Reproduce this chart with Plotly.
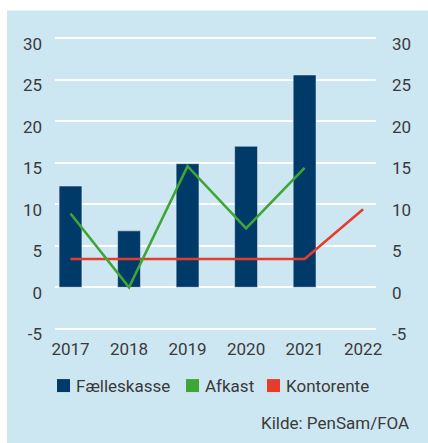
import plotly.graph_objects as go

years = ["2017", "2018", "2019", "2020", "2021", "2022"]
faelleskasse = [12.2, 6.8, 14.9, 17.0, 25.6, None]
afkast = [8.9, 0.0, 14.6, 7.1, 14.4, None]
kontorente = [3.4, 3.4, 3.4, 3.4, 3.4, 9.4]
y_ticks = [-5, 0, 5, 10, 15, 20, 25, 30]
y_ticktext = ["-5", "0", "5", "10", "15", "20", "25", "30"]
legend_names = ["Fælleskasse", "Afkast", "Kontorente"]

NAVY = "#003a68"
GREEN = "#3fa535"
RED = "#e63c2e"
BG = "#cde7f2"
TXT = "#3a3a3a"
FONT = "Roboto"

W, H = 428, 443
yr = [-6.0, 30.3]
L, R, T = 55, 52, 35.5
B = 443 - (329 + 8.3)
PW, PH = W - L - R, H - T - B
LABEL_DROP = 0.65  # tick labels sit slightly below their gridline


def px_x(px):
    return (px - L) / PW


def px_y(py):
    return (H - B - py) / PH


fig = go.Figure()
fig.add_trace(go.Bar(x=years, y=faelleskasse, name=legend_names[0], marker_color=NAVY,
                     width=0.39, showlegend=False))
fig.add_trace(go.Scatter(x=years, y=afkast, name=legend_names[1], mode="lines",
                         line=dict(color=GREEN, width=2.6), showlegend=False, yaxis="y3"))
fig.add_trace(go.Scatter(x=years, y=kontorente, name=legend_names[2], mode="lines",
                         line=dict(color=RED, width=2.6), showlegend=False, yaxis="y2"))

# manual legend (square swatches + labels)
swatch_x = [57, 186, 267]
colors = [NAVY, GREEN, RED]
leg_y = 386
shapes = [
    dict(type="rect", xref="paper", yref="paper", x0=-0.5, x1=1.5,
         y0=px_y(10), y1=1.5, fillcolor="white", line_width=0, layer="below"),
    dict(type="rect", xref="paper", yref="paper", x0=-0.5, x1=px_x(7),
         y0=-1, y1=1.5, fillcolor="white", line_width=0, layer="below"),
]
annotations = []
for sx, c, name in zip(swatch_x, colors, legend_names):
    shapes.append(dict(type="rect", xref="paper", yref="paper", x0=px_x(sx), x1=px_x(sx + 13),
                       y0=px_y(leg_y + 6.5), y1=px_y(leg_y - 6.5), fillcolor=c, line_width=0))
    annotations.append(dict(text=name, xref="paper", yref="paper", x=px_x(sx + 17), y=px_y(leg_y),
                            xanchor="left", yanchor="middle", showarrow=False,
                            font=dict(family=FONT, size=17, color=TXT)))
annotations.append(dict(text="Kilde: PenSam/FOA", xref="paper", yref="paper",
                        x=px_x(411), y=px_y(424), xanchor="right", yanchor="middle",
                        showarrow=False, font=dict(family=FONT, size=17, color=TXT)))

label_vals = [v - LABEL_DROP for v in y_ticks]
fig.update_layout(
    width=W, height=H,
    margin=dict(l=L, r=R, t=T, b=B),
    paper_bgcolor=BG, plot_bgcolor=BG,
    font=dict(family=FONT, size=17, color=TXT),
    barmode="overlay",
    showlegend=False,
    xaxis=dict(type="category", range=[-0.265, 5.22], showgrid=False, zeroline=False,
               showline=False, ticks="", ticklabelstandoff=0),
    yaxis=dict(range=yr, tickvals=y_ticks, showticklabels=False, showgrid=True,
               gridcolor="white", gridwidth=1.8, zeroline=False, showline=False, ticks=""),
    yaxis2=dict(range=yr, tickvals=label_vals, ticktext=y_ticktext, overlaying="y",
                side="right", showgrid=False, zeroline=False, showline=False, ticks="",
                ticklabelstandoff=15),
    yaxis3=dict(range=yr, tickvals=label_vals, ticktext=y_ticktext, overlaying="y",
                side="left", showgrid=False, zeroline=False, showline=False, ticks="",
                ticklabelstandoff=12),
    shapes=shapes,
    annotations=annotations,
)
fig.write_html("out.html", config={"displayModeBar": False},
               post_script="document.body.style.margin='0px';")
